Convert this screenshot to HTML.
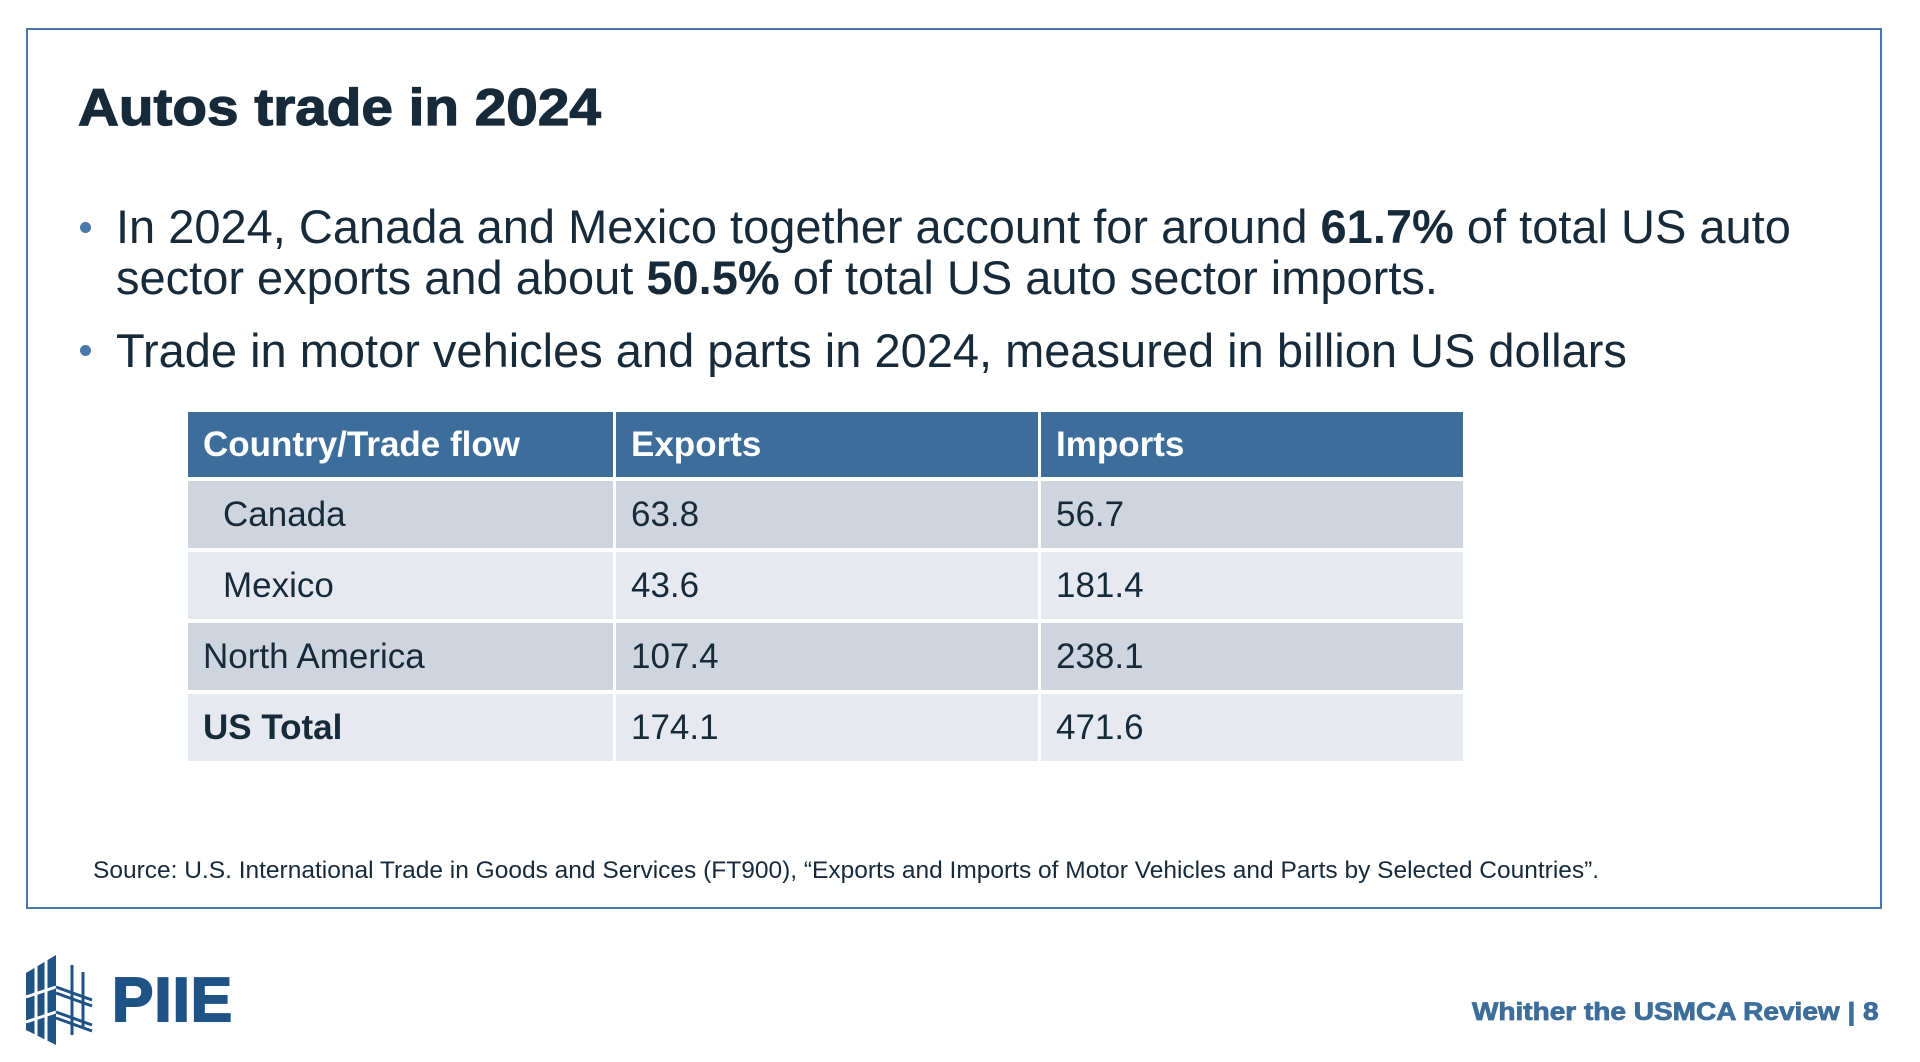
<!DOCTYPE html>
<html><head><meta charset="utf-8"><style>
body{margin:0;width:1920px;height:1062px;background:#fff;position:relative;overflow:hidden;font-family:"Liberation Sans",Arial,sans-serif;color:#172a3a}
.abs{position:absolute;white-space:nowrap}
#frame{left:26px;top:28px;width:1862px;height:877px;border:2px solid #4a78a8;width:1862px}
#title{left:78px;top:78px;font-size:52px;font-weight:bold;line-height:60px;transform:scaleX(1.09);transform-origin:left;-webkit-text-stroke:1.2px #172a3a}
.b{font-size:47px;line-height:51px}
.dot{position:absolute;width:11px;height:11px;border-radius:50%;background:#4a78a8}
table{position:absolute;left:188px;top:412px;border-collapse:collapse;font-size:35px}
td,th{padding:0 0 0 15px;text-align:left;vertical-align:middle}
th{background:#3d6e9b;color:#fff;height:65px;font-weight:bold}
td{height:67px;border-top:4px solid #fff}
td+td,th+th{border-left:3px solid #fff}
.r1 td{background:#cfd5df}.r2 td{background:#e7e9f1}
#src{left:93px;top:857px;font-size:24.5px}
#foot{left:1472px;top:998px;font-size:25px;font-weight:bold;color:#3d6e9b;transform:scaleX(1.12);transform-origin:left;-webkit-text-stroke:0.8px #3d6e9b}
#piie{left:112px;top:965px;font-size:62px;font-weight:bold;color:#1f5285;letter-spacing:1px;-webkit-text-stroke:2px #1f5285}
</style></head><body>
<div id="frame" class="abs" style="width:1852px"></div>
<div id="title" class="abs">Autos trade in 2024</div>
<div class="dot" style="left:80px;top:222px"></div>
<div class="abs b" style="left:116px;top:201px">In 2024, Canada and Mexico together account for around <b>61.7%</b> of total US auto<br>sector exports and about <b>50.5%</b> of total US auto sector imports.</div>
<div class="dot" style="left:80px;top:345px"></div>
<div class="abs b" style="left:116px;top:325px">Trade in motor vehicles and parts in 2024, measured in billion US dollars</div>
<table>
<tr><th style="width:410px">Country/Trade flow</th><th style="width:407px">Exports</th><th style="width:407px">Imports</th></tr>
<tr class="r1"><td style="padding-left:35px">Canada</td><td>63.8</td><td>56.7</td></tr>
<tr class="r2"><td style="padding-left:35px">Mexico</td><td>43.6</td><td>181.4</td></tr>
<tr class="r1"><td>North America</td><td>107.4</td><td>238.1</td></tr>
<tr class="r2"><td><b>US Total</b></td><td>174.1</td><td>471.6</td></tr>
</table>
<div id="src" class="abs">Source: U.S. International Trade in Goods and Services (FT900), “Exports and Imports of Motor Vehicles and Parts by Selected Countries”.</div>
<svg class="abs" style="left:26px;top:955px" width="70" height="90">
<g fill="#1f5285"><polygon points="0,18 30,0 30,90 0,75"/></g>
<g stroke="#fff" stroke-width="3"><line x1="10" y1="0" x2="10" y2="90"/><line x1="20" y1="0" x2="20" y2="90"/><line x1="0" y1="42" x2="30" y2="32"/><line x1="0" y1="67" x2="30" y2="57"/></g>
<g stroke="#1f5285" stroke-width="3"><line x1="46" y1="10" x2="46" y2="80"/><line x1="57" y1="17" x2="57" y2="73"/><line x1="30" y1="32" x2="66" y2="45"/><line x1="30" y1="38" x2="66" y2="51"/><line x1="30" y1="57" x2="66" y2="70"/><line x1="30" y1="63" x2="66" y2="76"/></g>
</svg>
<div id="piie" class="abs">PIIE</div>
<div id="foot" class="abs">Whither the USMCA Review | 8</div>
</body></html>
